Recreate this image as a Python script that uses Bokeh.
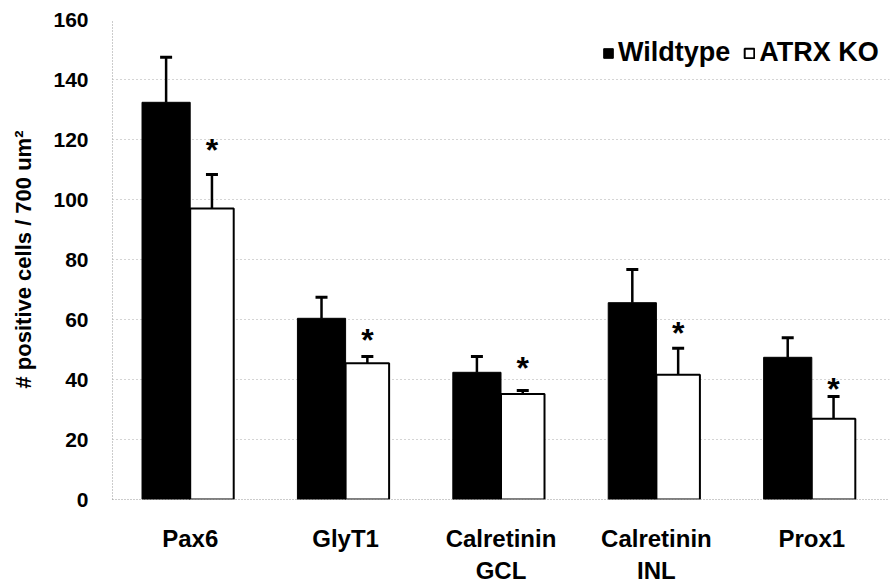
from bokeh.plotting import figure
from bokeh.models import (Range1d, FixedTicker, ColumnDataSource, Whisker, TeeHead,
                          Legend, LegendItem)
from bokeh.core.properties import value
from bokeh.embed import file_html
from bokeh.resources import INLINE

categories = ["Pax6", "GlyT1", "Calretinin\nGCL", "Calretinin\nINL", "Prox1"]
wildtype = [132.4, 60.4, 42.4, 65.6, 47.4]
wildtype_err = [15.0, 7.0, 5.3, 11.1, 6.5]
atrx_ko = [97.0, 45.4, 35.2, 41.6, 26.9]
atrx_ko_err = [11.3, 2.3, 1.1, 8.8, 7.4]
significant = ["*", "*", "*", "*", "*"]
star_height = [118.7, 55.4, 46.1, 57.7, 39.3]
y_ticks = [0, 20, 40, 60, 80, 100, 120, 140, 160]

FONT = "Liberation Sans"

n = len(categories)
centers = [i + 0.5 for i in range(n)]
x_wt = [c - 0.155 for c in centers]
x_ko = [c + 0.14 for c in centers]

src_wt = ColumnDataSource(dict(x=x_wt, top=wildtype,
                               up=[v + e for v, e in zip(wildtype, wildtype_err)]))
src_ko = ColumnDataSource(dict(x=x_ko, top=atrx_ko,
                               up=[v + e for v, e in zip(atrx_ko, atrx_ko_err)],
                               star=significant, star_y=star_height))

p = figure(width=891, height=588, output_backend="svg", toolbar_location=None,
           x_range=Range1d(0, n), y_range=Range1d(0, 160),
           min_border_left=112, min_border_right=2, min_border_top=19,
           min_border_bottom=89, outline_line_color=None)
p.background_fill_color = "white"
p.border_fill_color = "white"

r_wt = p.vbar(x="x", top="top", bottom=0, width=0.31, source=src_wt,
              fill_color="black", line_color="black", line_width=1)
r_ko = p.vbar(x="x", top="top", bottom=0, width=0.28, source=src_ko,
              fill_color="white", line_color="black", line_width=2)

for src in (src_wt, src_ko):
    w = Whisker(base="x", lower="top", upper="up", source=src,
                line_color="black", line_width=2.5,
                upper_head=TeeHead(size=12, line_color="black", line_width=3),
                lower_head=None)
    p.add_layout(w)

p.text(x="x", y="star_y", text="star", source=src_ko, text_font=value(FONT),
       text_font_style="bold", text_font_size="32px", text_align="center",
       text_baseline="middle", y_offset=7, text_color="black")

# axes
p.yaxis.ticker = FixedTicker(ticks=y_ticks)
p.yaxis.axis_label = "# positive cells / 700 um²"
p.yaxis.axis_label_text_font = FONT
p.yaxis.axis_label_text_font_style = "bold"
p.yaxis.axis_label_text_font_size = "22px"
p.yaxis.axis_label_text_color = "black"
p.yaxis.axis_label_standoff = 14
p.yaxis.major_label_text_font = FONT
p.yaxis.major_label_text_font_style = "bold"
p.yaxis.major_label_text_font_size = "21px"
p.yaxis.major_label_text_color = "black"
p.yaxis.major_label_standoff = 18
p.yaxis.major_tick_line_color = None
p.yaxis.minor_tick_line_color = None
p.yaxis.axis_line_color = "#999999"
p.yaxis.axis_line_dash = "1 2"

p.xaxis.ticker = FixedTicker(ticks=centers)
p.xaxis.major_label_overrides = {c: lab for c, lab in zip(centers, categories)}
p.xaxis.major_label_text_font = FONT
p.xaxis.major_label_text_font_style = "bold"
p.xaxis.major_label_text_font_size = "24px"
p.xaxis.major_label_text_color = "black"
p.xaxis.major_label_text_line_height = 1.2
p.xaxis.major_label_standoff = 19
p.xaxis.major_tick_line_color = None
p.xaxis.minor_tick_line_color = None
p.xaxis.axis_line_color = "#999999"
p.xaxis.axis_line_dash = "1 2"

p.xgrid.grid_line_color = None
p.ygrid.grid_line_color = "#aaaaaa"
p.ygrid.grid_line_dash = "1 3"
p.ygrid.grid_line_width = 1

legend = Legend(items=[LegendItem(label="Wildtype", renderers=[r_wt]),
                       LegendItem(label="ATRX KO", renderers=[r_ko])],
                orientation="horizontal",
                label_text_font=FONT, label_text_font_style="bold",
                label_text_font_size="27px", label_text_color="black",
                glyph_width=12, glyph_height=12,
                label_standoff=4, spacing=13, padding=6, margin=0,
                border_line_color=None, background_fill_alpha=0.0)
legend.location = (490, 431)
p.add_layout(legend)

open("out.html", "w").write(file_html(p, INLINE))
